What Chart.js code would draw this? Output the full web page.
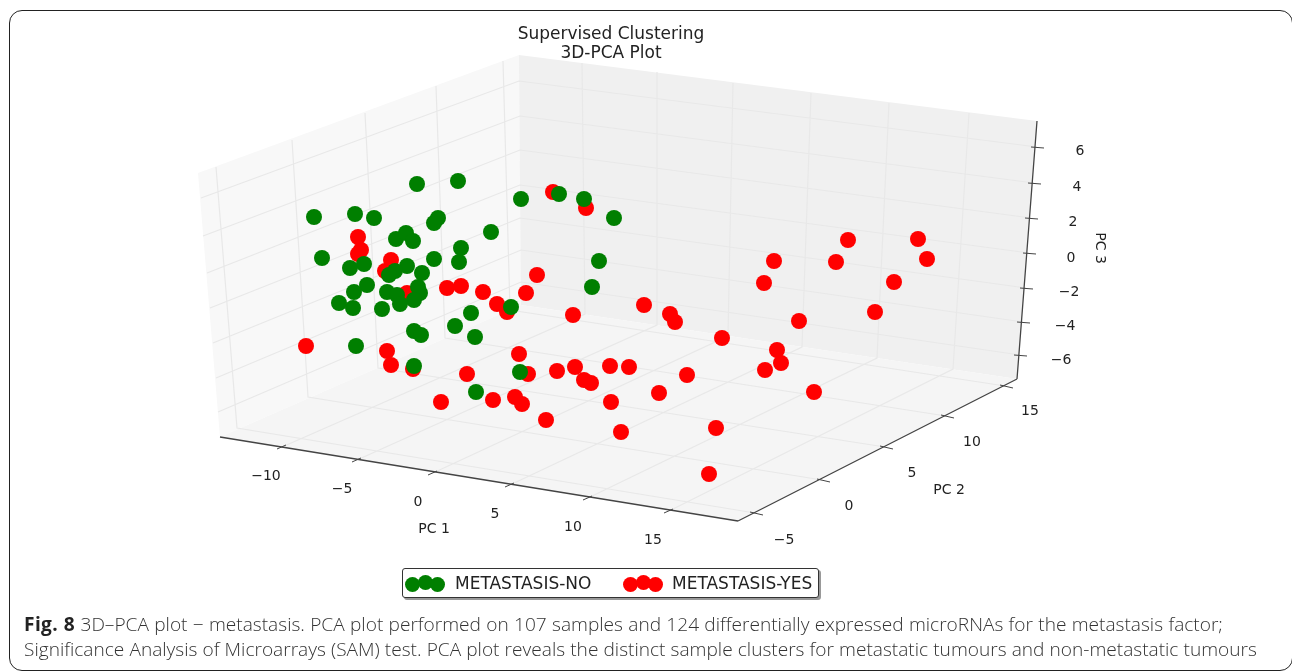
<!DOCTYPE html>
<html>
<head>
<meta charset="utf-8">
<script src="https://cdn.jsdelivr.net/npm/chart.js@4"></script>
<style>
  html, body { margin: 0; padding: 0; background: #fff; overflow: hidden; }
  #wrap { position: relative; width: 1292px; height: 672px; }
  #chart { position: absolute; left: 0; top: 0; }
  #frame { position: absolute; left: 9px; top: 10px; width: 1284px; height: 661px; border: 1.5px solid #222; border-radius: 13px; box-sizing: border-box; }
  #title { position: absolute; left: 411px; width: 400px; top: 24px; text-align: center; font: 17px/19px "DejaVu Sans"; color: #222; }
  #legend { position: absolute; left: 402px; top: 568px; width: 417px; height: 30px; box-sizing: border-box; border: 1px solid #333; border-radius: 3px; background: #fff; box-shadow: 2px 2px 0 #999; font: 17px/28px "DejaVu Sans"; color: #222; }
  #legend span { position: absolute; top: 0; white-space: nowrap; }
  #legend i { position: absolute; width: 15px; height: 15px; border-radius: 50%; }
  #caption { position: absolute; left: 24px; top: 612px; font: 300 19.1px/25px "Open Sans"; color: #333; white-space: nowrap; }
  #caption b { font-weight: 700; color: #222; letter-spacing: 0.4px; }
  #caption .first { word-spacing: 0.35px; }
  #caption .second { word-spacing: 0.15px; }
</style>
</head>
<body>
<div id="wrap">
  <canvas id="chart" width="1292" height="672"></canvas>
  <div id="frame"></div>
  <div id="title">Supervised Clustering<br>3D-PCA Plot</div>
  <div id="legend"></div>
  <div id="caption"><span class="first"><b>Fig. 8</b> 3D–PCA plot − metastasis. PCA plot performed on 107 samples and 124 differentially expressed microRNAs for the metastasis factor;</span><br><span class="second">Significance Analysis of Microarrays (SAM) test. PCA plot reveals the distinct sample clusters for metastatic tumours and non-metastatic tumours</span></div>
</div>
<script>
// everything is in the flat projected plane of the original 3D plot
const seriesNames = ['METASTASIS-NO', 'METASTASIS-YES'];

const noX = [417, 458, 314, 355, 374, 438, 434, 396, 406, 413, 322, 434, 461, 459, 364, 350, 407, 395, 389, 422, 367, 354, 387, 397, 418, 420, 414, 400, 339, 353, 382, 414, 421, 356, 414, 455, 471, 475, 592, 511, 520, 476, 521, 559, 584, 614, 491, 599];
const noY = [184, 181, 217, 214, 218, 218, 223, 239, 233, 241, 258, 259, 248, 262, 264, 268, 266, 271, 275, 273, 285, 292, 292, 295, 287, 293, 300, 304, 303, 308, 309, 331, 335, 346, 366, 326, 313, 337, 287, 307, 372, 392, 199, 194, 199, 218, 232, 261];

const yesX = [358, 361, 358, 391, 385, 407, 447, 461, 483, 497, 507, 526, 537, 553, 586, 573, 306, 387, 391, 413, 441, 467, 493, 515, 522, 519, 528, 557, 575, 584, 591, 610, 629, 611, 546, 621, 644, 670, 675, 722, 774, 764, 848, 836, 918, 927, 894, 875, 799, 687, 659, 777, 781, 765, 814, 716, 709];
const yesY = [237, 250, 254, 260, 271, 293, 288, 286, 292, 304, 312, 293, 275, 192, 208, 315, 346, 351, 365, 369, 402, 374, 400, 397, 404, 354, 374, 371, 367, 380, 383, 366, 367, 402, 420, 432, 305, 314, 322, 338, 261, 283, 240, 262, 239, 259, 282, 312, 321, 375, 393, 350, 363, 370, 392, 428, 474];

// axes
const pc1Ticks = ['−10', '−5', '0', '5', '10', '15'];
const pc2Ticks = ['−5', '0', '5', '10', '15'];
const pc3Ticks = ['6', '4', '2', '0', '−2', '−4', '−6'];

// tick feet on the front edges and on the far end of the wall/floor
const pc1Front = [[282, 447], [357, 460], [433, 473], [510, 485], [588, 498], [669, 511]];
const pc1Back = [[585, 314], [657, 325], [728, 336], [802, 347], [877, 358], [953, 369]];
const pc1Top = [[582, 63], [657, 72], [733, 83], [811, 93], [889, 103], [969, 113]];
const pc1Labels = [[266, 476], [342, 489], [418, 502], [495, 514], [573, 527], [653, 540]];

const pc2Front = [[755, 513], [822, 480], [885, 447], [946, 416], [1005, 386]];
const pc2Back = [[237, 428], [308, 397], [378, 368], [445, 338], [510, 310]];
const pc2Top = [[216, 167], [292, 140], [365, 113], [436, 86], [503, 61]];
const pc2Labels = [[784, 540], [849, 506], [912, 473], [972, 442], [1030, 411]];

const pc3Right = [[1037, 147], [1034, 183], [1031, 218], [1029, 253], [1026, 288], [1023, 322], [1020, 355]];
const pc3Corner = [[519, 81], [520, 116], [520, 150], [520, 185], [520, 218], [521, 250], [521, 282]];
const pc3Left = [[201, 198], [203, 236], [207, 273], [210, 308], [213, 343], [216, 378], [218, 412]];
const pc3Labels = [[1080, 151], [1077, 187], [1073, 222], [1071, 258], [1069, 292], [1065, 326], [1061, 360]];

const leftPane = [[198, 173], [519, 55], [521, 305], [220, 437]];
const rightPane = [[519, 55], [1037, 121], [1017, 379], [521, 305]];
const floorPane = [[220, 437], [521, 305], [1017, 379], [738, 521]];
const axisEdges = [[[220, 437], [738, 521]], [[738, 521], [1017, 379]], [[1017, 379], [1037, 121]]];

const asPoints = (xs, ys) => xs.map((x, i) => ({ x: x, y: ys[i] }));
const asPolygon = (corners) => corners.map(c => ({ x: c[0], y: c[1] }));

// a list of line pieces as one dataset, with null gaps between them
function asPieces(pieces) {
    const out = [];
    pieces.forEach(p => {
        p.forEach(c => out.push({ x: c[0], y: c[1] }));
        out.push({ x: null, y: null });
    });
    return out;
}

const gridPieces = [];
pc1Front.forEach((c, i) => gridPieces.push([c, pc1Back[i], pc1Top[i]]));
pc2Front.forEach((c, i) => gridPieces.push([c, pc2Back[i], pc2Top[i]]));
pc3Right.forEach((c, i) => gridPieces.push([c, pc3Corner[i], pc3Left[i]]));

const tickPieces = [];
pc1Front.forEach(c => tickPieces.push([[c[0] - 5, c[1] + 2], [c[0] + 4, c[1] - 2]]));
pc2Front.forEach(c => tickPieces.push([[c[0] - 5, c[1] - 1], [c[0] + 8, c[1] + 2]]));
pc3Right.forEach(c => tickPieces.push([[c[0] - 6, c[1]], [c[0] + 7, c[1] + 1]]));

const lineSet = (data, color, width) => ({
    data: data, showLine: true, borderColor: color, borderWidth: width,
    pointRadius: 0, fill: false, spanGaps: false, tension: 0
});
const paneSet = (corners, color) => ({
    data: asPolygon(corners), showLine: true, borderWidth: 0, borderColor: color,
    backgroundColor: color, pointRadius: 0, fill: 'shape', tension: 0
});
const markerSet = (label, xs, ys, color) => ({
    label: label, data: asPoints(xs, ys), backgroundColor: color, borderColor: color,
    borderWidth: 0, pointRadius: 8, showLine: false
});

// tick labels and axis names sit in the projected plane too
const axisText = {
    id: 'axisText',
    afterDraw(chart) {
        const { ctx, scales } = chart;
        ctx.save();
        ctx.fillStyle = '#222';
        ctx.font = '14px "DejaVu Sans"';
        ctx.textAlign = 'center';
        ctx.textBaseline = 'middle';
        const put = (text, c) => ctx.fillText(text, scales.x.getPixelForValue(c[0]), scales.y.getPixelForValue(c[1]));
        pc1Ticks.forEach((t, i) => put(t, pc1Labels[i]));
        pc2Ticks.forEach((t, i) => put(t, pc2Labels[i]));
        pc3Ticks.forEach((t, i) => put(t, pc3Labels[i]));
        put('PC 1', [434, 529]);
        put('PC 2', [949, 490]);
        ctx.translate(scales.x.getPixelForValue(1100), scales.y.getPixelForValue(248));
        ctx.rotate(Math.PI / 2);
        ctx.fillText('PC 3', 0, 0);
        ctx.restore();
    }
};

new Chart(document.getElementById('chart'), {
    type: 'scatter',
    data: {
        datasets: [
            markerSet(seriesNames[0], noX, noY, '#007f00'),
            markerSet(seriesNames[1], yesX, yesY, '#ff0000'),
            lineSet(asPieces(tickPieces), '#444', 1),
            lineSet(asPieces(axisEdges), '#444', 1.3),
            lineSet(asPieces(gridPieces), '#e8e8e8', 1.2),
            paneSet(floorPane, '#f5f5f5'),
            paneSet(rightPane, '#f0f0f0'),
            paneSet(leftPane, '#f8f8f8')
        ]
    },
    options: {
        responsive: false,
        animation: false,
        layout: { padding: 0, autoPadding: false },
        plugins: { legend: { display: false }, title: { display: false }, tooltip: { enabled: false } },
        scales: {
            x: { type: 'linear', min: 0, max: 1292, display: false },
            y: { type: 'linear', min: 0, max: 672, reverse: true, display: false }
        }
    },
    plugins: [axisText]
});

// legend box: three overlapping dots and the name for each series
const legend = document.getElementById('legend');
const legendColors = ['#007f00', '#ff0000'];
[[2, 52], [220, 269]].forEach((row, s) => {
    [[0, 8], [13, 6], [25, 8]].forEach(d => {
        const dot = document.createElement('i');
        dot.style.background = legendColors[s];
        dot.style.left = (row[0] + d[0]) + 'px';
        dot.style.top = d[1] + 'px';
        legend.appendChild(dot);
    });
    const name = document.createElement('span');
    name.textContent = seriesNames[s];
    name.style.left = row[1] + 'px';
    legend.appendChild(name);
});
</script>
</body>
</html>
